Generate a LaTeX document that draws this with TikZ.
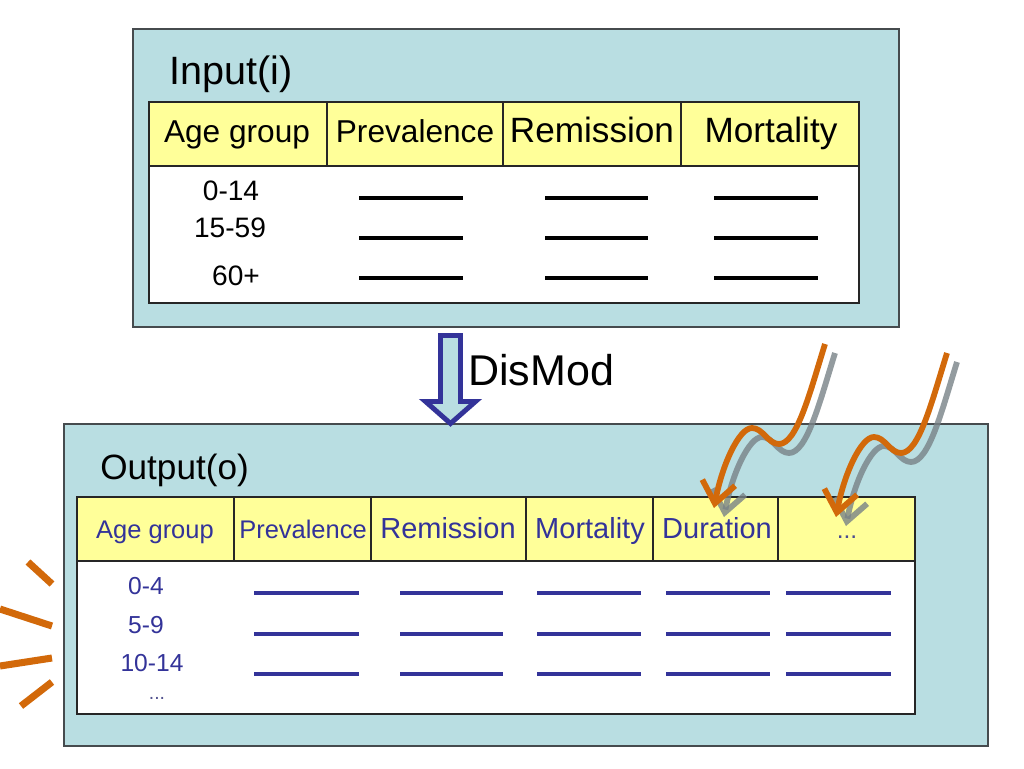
\documentclass[tikz,border=0pt]{standalone}
\usepackage{fontspec}
\setmainfont{Liberation Sans}
\usetikzlibrary{arrows.meta,calc,positioning}

\definecolor{panelfill}{RGB}{185,222,226}
\definecolor{headfill}{RGB}{255,255,153}
\definecolor{navy}{RGB}{51,51,153}
\definecolor{burnt}{RGB}{210,105,10}
\definecolor{framegray}{RGB}{70,75,78}
\definecolor{shadowgray}{RGB}{120,130,135}

\tikzset{
  panel/.style={draw=framegray, line width=0.9pt, fill=panelfill},
  headrow/.style={draw=black!85, line width=0.6pt, fill=headfill},
  bodyrow/.style={draw=black!85, line width=0.6pt, fill=white},
  blank/.style={line width=2.1pt},
  title/.style={anchor=base west, inner sep=0pt},
  cell/.style={anchor=base, inner sep=0pt},
  dmarrow/.style={draw=navy, line width=2.8pt, fill=panelfill, line join=miter},
  squiggle/.style={line width=3.3pt, -{Straight Barb[length=12pt,width=19pt]}},
  ray/.style={draw=burnt, line width=4pt}
}

\begin{document}
\begin{tikzpicture}[x=0.02cm, y=-0.02cm]
  \fill[white] (0,0) rectangle (1024,768);
  \useasboundingbox (0,0) rectangle (1024,768);

  %% input panel
  \draw[panel] (133,29) rectangle (899,327);
  \node[title, font=\fontsize{22.5}{26}\selectfont] (intitle) at (169,84) {Input(i)};

  \draw[headrow] (149,102) rectangle (859,166);
  \draw[bodyrow] (149,166) rectangle (859,303);
  \foreach \xx in {327,503,681}
    \draw[black!85, line width=0.6pt] (\xx,102) -- (\xx,166);

  \node[cell, font=\fontsize{18}{22}\selectfont] (inhead1) at (237,142) {Age group};
  \node[cell, font=\fontsize{18}{22}\selectfont] (inhead2) at (415,142) {Prevalence};
  \node[cell, font=\fontsize{20}{24}\selectfont] (inhead3) at (592,142) {Remission};
  \node[cell, font=\fontsize{20}{24}\selectfont] (inhead4) at (771,142) {Mortality};

  \node[cell, font=\fontsize{16}{19}\selectfont] (inrow1) at (231,200) {0-14};
  \node[cell, font=\fontsize{16}{19}\selectfont] (inrow2) at (230,237) {15-59};
  \node[cell, font=\fontsize{16}{19}\selectfont] (inrow3) at (236,285) {60+};

  \foreach \ya in {198,238,278}
    \foreach \xa/\xb in {359/463,545/648,714/818}
      \draw[blank] (\xa,\ya) -- (\xb,\ya);

  %% output panel
  \draw[panel] (64,424) rectangle (988,746);
  \node[title, font=\fontsize{20}{24}\selectfont] (outtitle) at (100,479) {Output(o)};

  \draw[headrow] (77,497) rectangle (915,561);
  \draw[bodyrow] (77,561) rectangle (915,714);
  \foreach \xx in {234,371,526,653,778}
    \draw[black!85, line width=0.6pt] (\xx,497) -- (\xx,561);

  \node[cell, navy, font=\fontsize{14.5}{17}\selectfont] (outhead1) at (155,538) {Age group};
  \node[cell, navy, font=\fontsize{14.5}{17}\selectfont] (outhead2) at (303,538) {Prevalence};
  \node[cell, navy, font=\fontsize{16.5}{20}\selectfont] (outhead3) at (448,538) {Remission};
  \node[cell, navy, font=\fontsize{16.5}{20}\selectfont] (outhead4) at (590,538) {Mortality};
  \node[cell, navy, font=\fontsize{16.5}{20}\selectfont] (outhead5) at (717,538) {Duration};
  \node[cell, navy!70!gray, font=\fontsize{14}{17}\selectfont] (outhead6) at (847,538) {...};

  \node[cell, navy, font=\fontsize{14}{17}\selectfont] (outrow1) at (146,594) {0-4};
  \node[cell, navy, font=\fontsize{14}{17}\selectfont] (outrow2) at (146,633) {5-9};
  \node[cell, navy, font=\fontsize{14}{17}\selectfont] (outrow3) at (152,671) {10-14};
  \node[cell, navy!60!gray, font=\fontsize{11}{13}\selectfont] (outrow4) at (157,699) {...};

  \foreach \ya in {593,634,674}
    \foreach \xa/\xb in {254/359,400/503,537/641,666/770,786/891}
      \draw[blank, navy, line width=1.9pt] (\xa,\ya) -- (\xb,\ya);

  %% DisMod step
  \draw[dmarrow] (440.5,335.5) -- (460.5,335.5) -- (460.5,401.5) -- (475.5,401.5)
    -- (450.5,423.5) -- (425.5,401.5) -- (440.5,401.5) -- cycle;
  \node[title, font=\fontsize{24.5}{29}\selectfont] (dismod) at (468,385) {DisMod};

  %% incoming squiggles
  \foreach \dx/\dy in {0/0,122/9} {
    \begin{scope}[shift={(\dx,\dy)}]
      \coordinate (sqstart) at (825,344);
      \coordinate (sqtrough) at (779,444);
      \coordinate (sqcrest) at (752,428);
      \coordinate (sqtip) at (714,508);
      \draw[squiggle, shadowgray, draw opacity=0.8] ($(sqstart)+(10,9)$)
        .. controls ($(810,392)+(10,9)$) and ($(797,444)+(10,9)$) .. ($(sqtrough)+(10,9)$)
        .. controls ($(768,444)+(10,9)$) and ($(763,428)+(10,9)$) .. ($(sqcrest)+(10,9)$)
        .. controls ($(739,428)+(10,9)$) and ($(722,465)+(10,9)$) .. ($(sqtip)+(10,9)$);
      \draw[squiggle, burnt] (sqstart)
        .. controls (810,392) and (797,444) .. (sqtrough)
        .. controls (768,444) and (763,428) .. (sqcrest)
        .. controls (739,428) and (722,465) .. (sqtip);
    \end{scope}
  }

  %% rays at the left
  \draw[ray] (28,562) -- (52,584);
  \draw[ray] (0,609) -- (52,626);
  \draw[ray] (0,666) -- (52,658);
  \draw[ray] (21,706) -- (52,682);

\end{tikzpicture}
\end{document}
